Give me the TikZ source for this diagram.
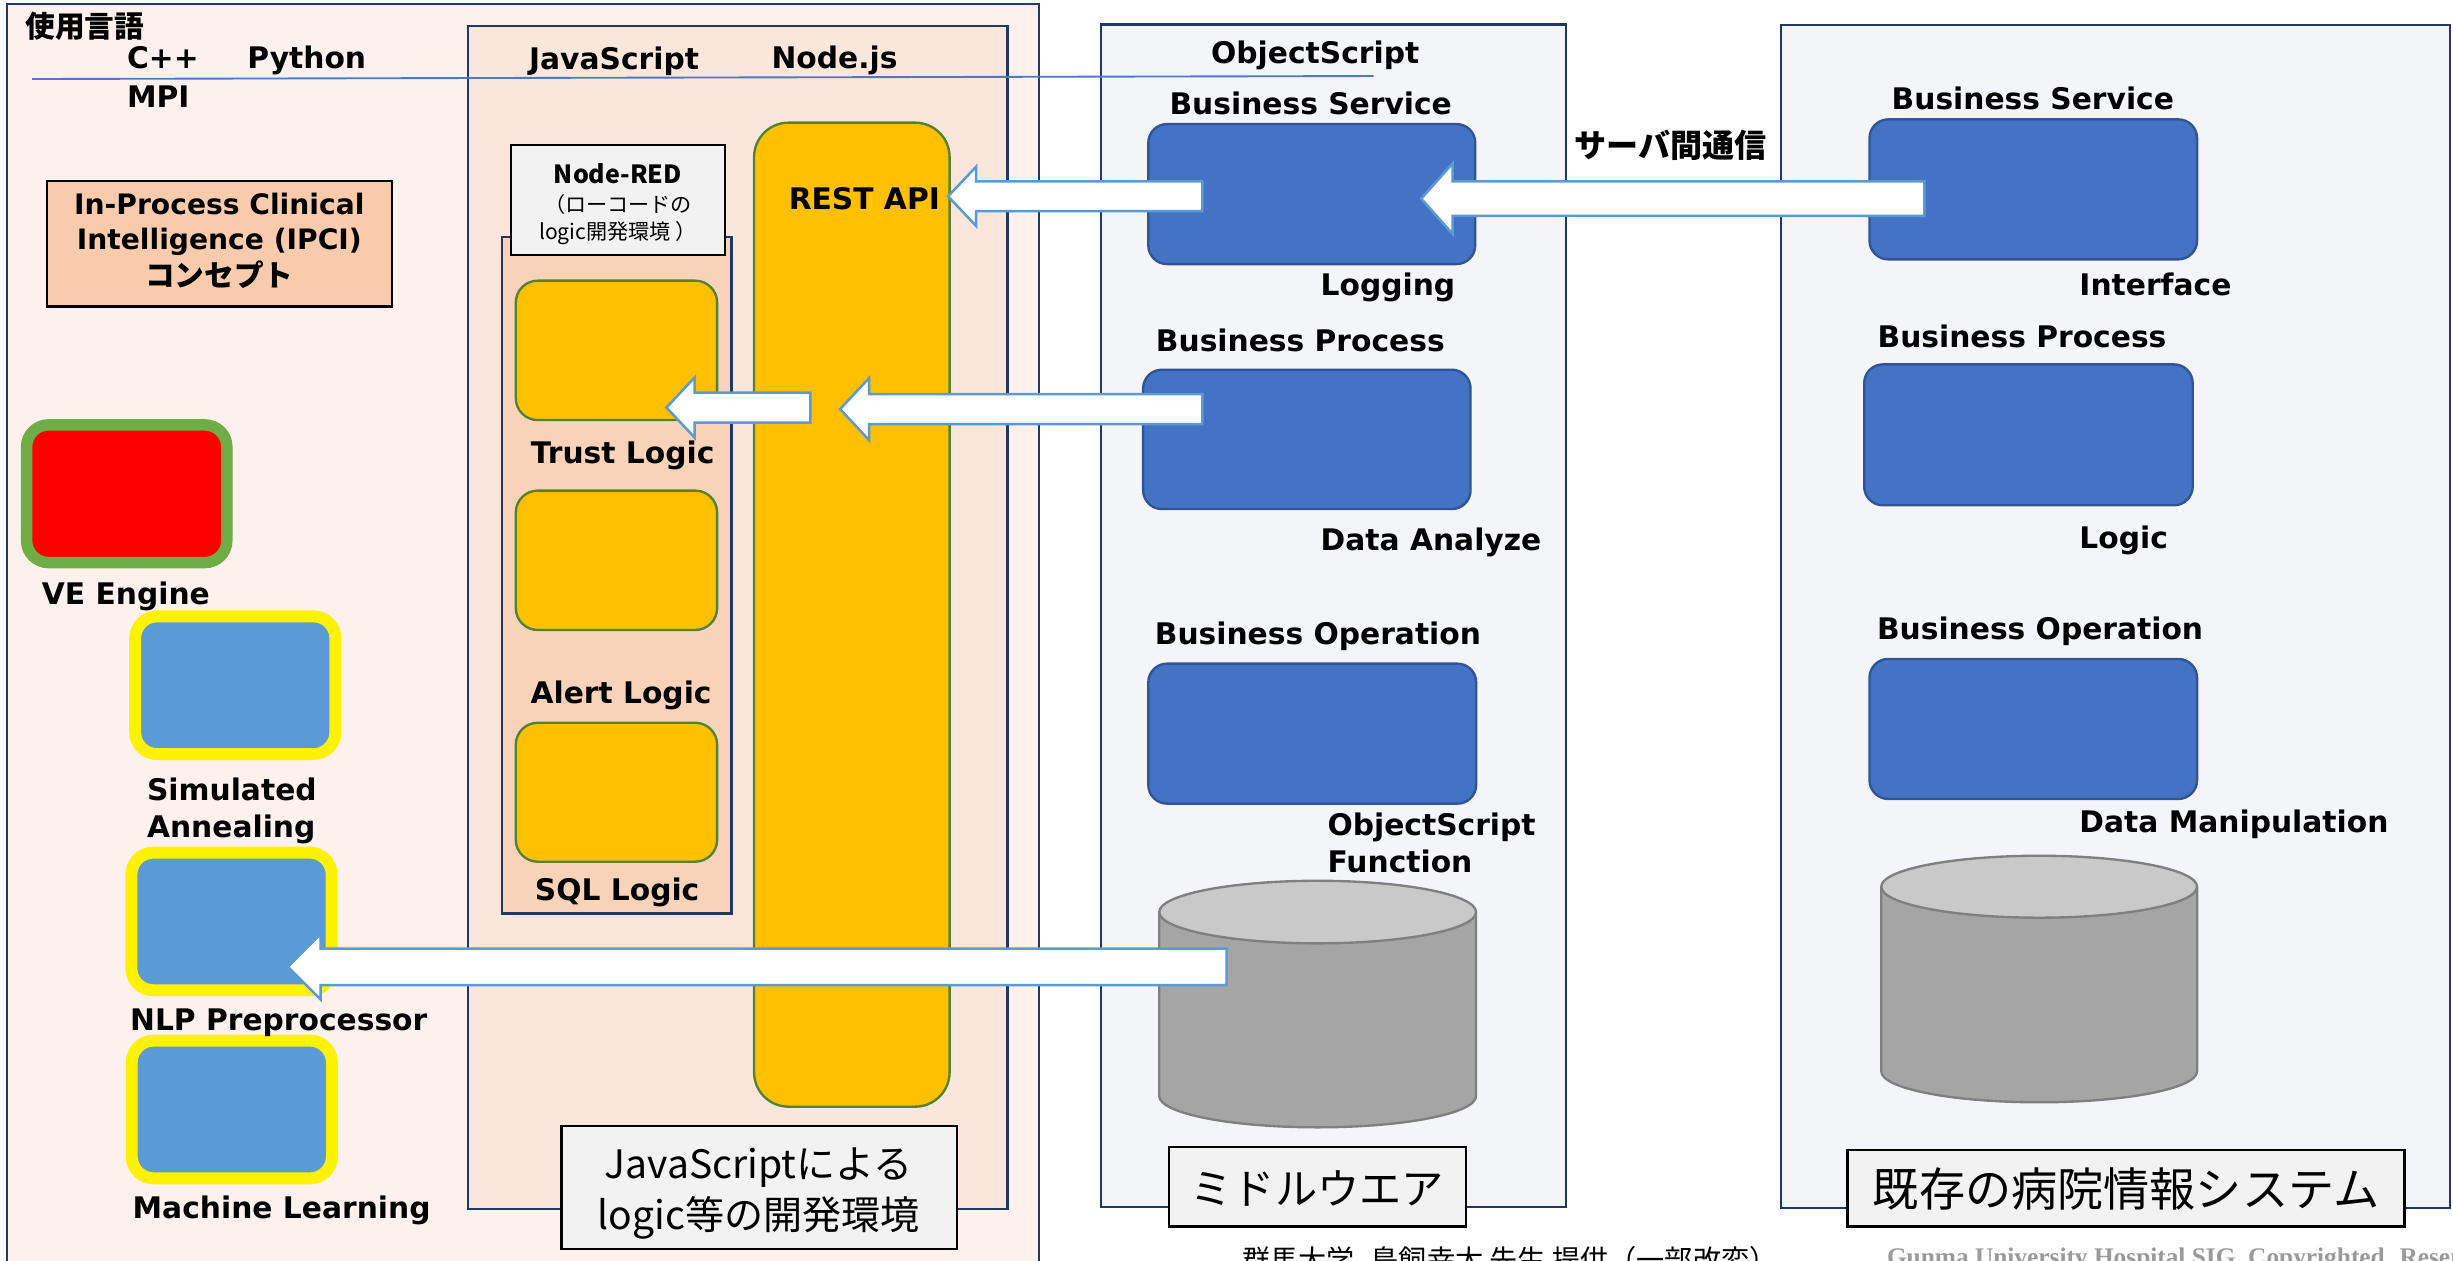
\documentclass[tikz,border=0pt]{standalone}
\usepackage{fontspec}
\setmainfont{DejaVu Sans}
\newfontfamily\jp{Noto Sans CJK JP}
\newfontfamily\serifb{Liberation Serif}
\usetikzlibrary{calc,fit}
\definecolor{navy}{HTML}{1F3864}
\definecolor{pinkbg}{HTML}{FCF1EC}
\definecolor{jsbg}{HTML}{FBE6DC}
\definecolor{nrbg}{HTML}{F8D3BA}
\definecolor{ipcic}{HTML}{F8CBAD}
\definecolor{lgray}{HTML}{F2F2F2}
\definecolor{yor}{HTML}{FFC000}
\definecolor{ygr}{HTML}{548235}
\definecolor{bblue}{HTML}{4472C4}
\definecolor{bbord}{HTML}{2F5597}
\definecolor{mwbg}{HTML}{F4F5F8}
\definecolor{lblue}{HTML}{5B9BD5}
\definecolor{vegreen}{HTML}{70AD47}
\definecolor{cylside}{HTML}{A5A5A5}
\definecolor{cyltop}{HTML}{C9C9C9}
\definecolor{cylline}{HTML}{7F7F7F}
\definecolor{footgray}{HTML}{9A9A9A}
\definecolor{sepblue}{HTML}{4F78C6}
\newcommand\myblockarrow[5]{%
  \draw[barrow] let \p1=(#1), \p2=(#2) in
  (\x1,\y1+#3) -- (\x2+#5,\y1+#3) -- (\x2+#5,\y1+#4) -- (\x2,\y1) --
  (\x2+#5,\y1-#4) -- (\x2+#5,\y1-#3) -- (\x1,\y1-#3) -- cycle;}
\begin{document}
\begin{tikzpicture}[x=1pt,y=-1pt,
  panel/.style={draw=navy, line width=1.5pt, inner sep=0pt},
  labbox/.style={draw=black, fill=lgray, line width=1.5pt, inner sep=0pt},
  bbox/.style={draw=bbord, fill=bblue, line width=1.5pt, rounded corners=12pt, inner sep=0pt},
  ybox/.style={draw=ygr, fill=yor, line width=1.5pt, rounded corners=14pt, inner sep=0pt},
  algbox/.style={fill=lblue, draw=yellow, line width=7.6pt, rounded corners=14pt, inner sep=0pt, minimum width=128pt, minimum height=88pt},
  barrow/.style={draw=lblue, fill=white, line width=1.6pt, line join=miter},
  lbl/.style={font=\fontsize{19}{22}\selectfont\bfseries, inner sep=0pt, anchor=base west},
  cyl/.style={draw=cylline, line width=1.5pt}]
\useasboundingbox (0,0) rectangle (1568,806);
\fill[white] (0,0) rectangle (1568,806);

% left panel
\node[panel, fill=pinkbg, fit={(4.3,2.6) (664,840)}] (leftp) {};
% JavaScript panel
\node[panel, fill=jsbg, fit={(299,16.6) (644,773)}] (jsp) {};
\node[panel, fill=nrbg, fit={(320.7,151.7) (467.5,584)}] (nrp) {};
\node[labbox, fit={(326.8,92.7) (463.5,163)}] (nrl) {};
\node[labbox, fill=ipcic, fit={(30,115.7) (250.5,196)}] (ipci) {};
\node[ybox, rounded corners=22pt, fit={(482,78.4) (607,707.4)}] (rest) {};
\node[ybox, fit={(329.7,179.4) (458.4,268.5)}] (trust) {};
\node[ybox, fit={(329.7,313.6) (458.4,402.7)}] (alert) {};
\node[ybox, fit={(329.7,462) (458.4,550.8)}] (sql) {};

% algorithm boxes
\node[algbox, fill=red, draw=vegreen, line width=7.3pt] (ve) at (81,315.6) {};
\node[algbox] (sim) at (150.4,438) {};
\node[algbox] (nlp) at (148,589) {};
\node[algbox] (ml) at (148.2,709.2) {};

% middleware and hospital system panels
\node[panel, fill=mwbg, fit={(703.8,15.6) (1001,771.6)}] (mw) {};
\node[panel, fill=mwbg, fit={(1138.5,16) (1566,772)}] (his) {};
\node[bbox, fit={(734,79.3) (943,168.8)}] (mbs) {};
\node[bbox, fit={(730.7,236.3) (940,325.4)}] (mbp) {};
\node[bbox, fit={(734,424.2) (943.6,513.7)}] (mbo) {};
\node[bbox, fit={(1195,76.3) (1404.4,165.8)}] (rbs) {};
\node[bbox, fit={(1191.6,232.9) (1401.6,323)}] (rbp) {};
\node[bbox, fit={(1195,421.2) (1404.4,510.7)}] (rbo) {};

% cylinders
\coordinate (cyl1) at (842.25,642);
\fill[cylside] (741,583) rectangle (943.5,700.6);
\fill[cylside] (842.25,700.6) ellipse (101.25 and 20);
\draw[cyl] (741,583) -- (741,700.6) arc[start angle=180, end angle=0, x radius=101.25, y radius=20] -- (943.5,583);
\filldraw[cyl, fill=cyltop] (842.25,583) ellipse (101.25 and 20);
\coordinate (cyl2) at (1303.45,626);
\fill[cylside] (1202.5,566.8) rectangle (1404.4,684.8);
\fill[cylside] (1303.45,684.8) ellipse (100.95 and 19.8);
\draw[cyl] (1202.5,566.8) -- (1202.5,684.8) arc[start angle=180, end angle=0, x radius=100.95, y radius=19.8] -- (1404.4,566.8);
\filldraw[cyl, fill=cyltop] (1303.45,566.8) ellipse (100.95 and 19.8);

% separator line
\coordinate (sepA) at (20.6,50.5);
\coordinate (sepB) at (878,48.6);
\draw[sepblue, line width=1.2pt] (sepA) -- (sepB);

% block arrows
\coordinate (a1) at (1230,127);   \coordinate (a2) at (908.5,127);
\coordinate (b1) at (768.5,125.5); \coordinate (b2) at (606,125.5);
\coordinate (c1) at (768.5,261.5); \coordinate (c2) at (537,261.5);
\coordinate (d1) at (518,260.5);   \coordinate (d2) at (426,260.5);
\coordinate (e1) at (784,618);     \coordinate (e2) at (184,618);
\myblockarrow{a1}{a2}{11pt}{22.5pt}{20pt}
\myblockarrow{b1}{b2}{9.5pt}{19pt}{18pt}
\myblockarrow{c1}{c2}{9.6pt}{19.8pt}{18.5pt}
\myblockarrow{d1}{d2}{9.6pt}{19.2pt}{18pt}
\myblockarrow{e1}{e2}{11.7pt}{21pt}{21pt}

% bottom label boxes
\node[labbox, fit={(359,719.6) (611.8,798.4)}] (jslab) {};
\node[labbox, fit={(747.3,733) (937,784)}] (mwlab) {};
\node[labbox, fit={(1181,735) (1537,784)}] (hislab) {};

% texts
\node[inner sep=0pt, anchor=west, font=\jp\bfseries\fontsize{19}{22}\selectfont] (tlang) at (16,17) {使用言語};
\node[lbl] (tcpp) at (81,44) {C++};
\node[lbl] (tpy) at (158,44) {Python};
\node[lbl] (tmpi) at (81,68.5) {MPI};
\node[lbl] (tjs) at (338,44.5) {JavaScript};
\node[lbl] (tnode) at (493,44) {Node.js};
\node[lbl] (tobj) at (774,40.5) {ObjectScript};

\node[lbl, anchor=base, font=\fontsize{18}{21}\selectfont\bfseries] (tip1) at (140.2,137.4) {In-Process Clinical};
\node[lbl, anchor=base, font=\fontsize{18}{21}\selectfont\bfseries] (tip2) at (140.2,159.8) {Intelligence (IPCI)};
\node[inner sep=0pt, font=\jp\bfseries\fontsize{19}{21}\selectfont] (tip3) at (140.2,175.8) {コンセプト};

\node[inner sep=0pt, anchor=base, font=\jp\bfseries\fontsize{16}{18}\selectfont] (tnr1) at (395,117) {Node-RED};
\node[inner sep=0pt, font=\jp\fontsize{13.5}{16}\selectfont] (tnr2) at (395,130.5) {（ローコードの};
\node[inner sep=0pt, font=\jp\fontsize{13.5}{16}\selectfont] (tnr3) at (395,149) {logic開発環境 ）};

\node[lbl] (trest) at (504,133.8) {REST API};
\node[lbl, anchor=base] (ttrust) at (398,296) {Trust Logic};
\node[lbl, anchor=base] (talert) at (397,450) {Alert Logic};
\node[lbl, anchor=base] (tsql) at (394.5,575.3) {SQL Logic};

\node[lbl] (tve) at (26.6,386.5) {VE Engine};
\node[lbl] (tsim1) at (93.8,511.5) {Simulated};
\node[lbl] (tsim2) at (93.8,535.6) {Annealing};
\node[lbl] (tnlp) at (83,658.5) {NLP Preprocessor};
\node[lbl] (tml) at (84.6,779) {Machine Learning};

\node[lbl] (tmbs) at (747.4,73.5) {Business Service};
\node[lbl] (tlog) at (844,188.6) {Logging};
\node[lbl] (tmbp) at (738.7,224.9) {Business Process};
\node[lbl] (tda) at (844,351.6) {Data Analyze};
\node[lbl] (tmbo) at (738,412) {Business Operation};
\node[lbl] (tosf1) at (848.4,534.2) {ObjectScript};
\node[lbl] (tosf2) at (848.4,558) {Function};

\node[lbl] (trbs) at (1209,70.3) {Business Service};
\node[lbl] (tif) at (1329,188.6) {Interface};
\node[lbl] (trbp) at (1200,222) {Business Process};
\node[lbl] (tlogic) at (1329,350.4) {Logic};
\node[lbl] (trbo) at (1199.6,408.6) {Business Operation};
\node[lbl] (tdm) at (1329,531.9) {Data Manipulation};

\node[inner sep=0pt, font=\jp\bfseries\fontsize{20.5}{24}\selectfont] (tcomm) at (1068,93) {サーバ間通信};

\node[inner sep=0pt, anchor=base, font=\jp\fontsize{25}{30}\selectfont] (tjsl1) at (485,753) {JavaScriptによる};
\node[inner sep=0pt, anchor=base, font=\jp\fontsize{25}{30}\selectfont] (tjsl2) at (485,786) {logic等の開発環境};
\node[inner sep=0pt, font=\jp\fontsize{27}{30}\selectfont] (tmwl) at (842,759.6) {ミドルウエア};
\node[inner sep=0pt, font=\jp\fontsize{29.5}{32}\selectfont] (thisl) at (1359,760) {既存の病院情報システム};

\node[inner sep=0pt, anchor=base west, font=\jp\fontsize{18}{20}\selectfont] (tfoot1) at (794,812) {群馬大学\hspace{10pt}鳥飼幸太 先生 提供（一部改変）};
\node[inner sep=0pt, anchor=base west, text=footgray, font=\serifb\bfseries\fontsize{16.2}{18}\selectfont] (tfoot2) at (1206,809) {Gunma University Hospital SIG. Copyrighted. Reserved};
\end{tikzpicture}
\end{document}
